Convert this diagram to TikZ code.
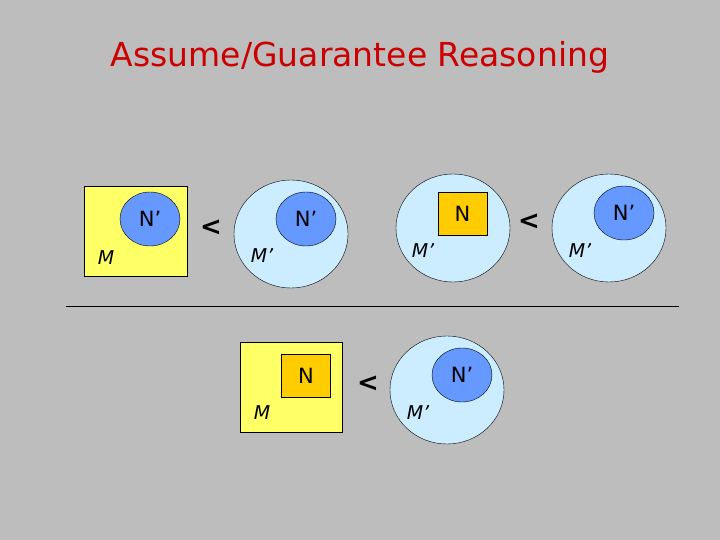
\documentclass[tikz,border=0pt]{standalone}
\usepackage{fontspec}
\setmainfont{DejaVu Sans}
\usetikzlibrary{shapes.geometric}
\definecolor{bgray}{HTML}{BDBDBD}
\definecolor{myyellow}{HTML}{FFFF66}
\definecolor{lblue}{HTML}{CCECFF}
\definecolor{nblue}{HTML}{6699FF}
\definecolor{norange}{HTML}{FFCC00}
\definecolor{tred}{HTML}{CC0000}
\tikzset{
  mbox/.style={draw, fill=myyellow, thin},
  mcirc/.style={draw, fill=lblue, ellipse, minimum width=114pt, minimum height=108pt, inner sep=0pt},
  ncirc/.style={draw, fill=nblue, ellipse, minimum width=60pt, minimum height=54pt, inner sep=0pt, font=\fontsize{21}{21}\selectfont},
  nbox/.style={draw, fill=norange, minimum width=49pt, minimum height=43pt, inner sep=0pt, font=\fontsize{21}{21}\selectfont},
  mlab/.style={font=\fontsize{19}{19}\selectfont\itshape},
  lt/.style={font=\fontsize{26}{26}\selectfont\bfseries}
}
\begin{document}
\begin{tikzpicture}[x=1pt, y=-1pt]
    \fill[bgray] (0,0) rectangle (720,540);
    \useasboundingbox (0,0) rectangle (720,540);

    \node[text=tred, font=\fontsize{33}{33}\selectfont] (title) at (360,57) {Assume/Guarantee Reasoning};

    % top row, left side
    \draw[mbox] (84,186) rectangle (187,276);
    \node[ncirc] (n1) at (150,219) {N'};
    \node[mlab] (m1) at (106,258) {M};
    \node[lt] (lt1) at (211,228) {<};
    \node[mcirc] (c1) at (291,234) {};
    \node[ncirc] (n2) at (306,219) {N'};
    \node[mlab] (m2) at (262,256) {M'};

    % top row, right side
    \node[mcirc] (c2) at (453,228) {};
    \node[nbox] (nb1) at (462.5,213.5) {N};
    \node[mlab] (m3) at (423,251) {M'};
    \node[lt] (lt2) at (529,222) {<};
    \node[mcirc] (c3) at (609,228) {};
    \node[ncirc] (n3) at (624,213) {N'};
    \node[mlab] (m4) at (580,251) {M'};

    \draw (66,306) -- (679,306);

    % conclusion
    \draw[mbox] (240,342) rectangle (342,432);
    \node[nbox] (nb2) at (306,375.5) {N};
    \node[mlab] (m5) at (262,413) {M};
    \node[lt] (lt3) at (368,384) {<};
    \node[mcirc] (c4) at (447,390) {};
    \node[ncirc] (n4) at (462,375) {N'};
    \node[mlab] (m6) at (418,413) {M'};
\end{tikzpicture}
\end{document}
